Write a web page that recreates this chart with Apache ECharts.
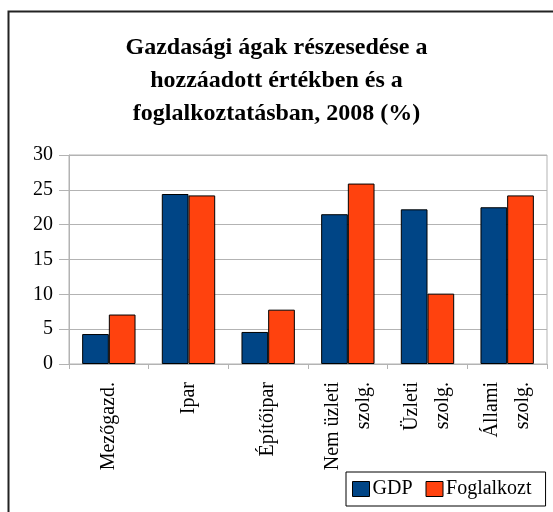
<!DOCTYPE html>
<html>
<head>
<meta charset="utf-8">
<script src="https://cdn.jsdelivr.net/npm/echarts@6/dist/echarts.min.js"></script>
<style>
  html, body { margin: 0; padding: 0; background: #fff; }
  #chart { width: 553px; height: 512px; }
</style>
</head>
<body>
<div id="chart"></div>
<script>
var categories = ["Mezőgazd.", "Ipar", "Építőipar", "Nem üzleti\nszolg.", "Üzleti\nszolg.", "Állami\nszolg."];
var gdpValues = [4.3, 24.4, 4.6, 21.5, 22.2, 22.5];
var foglalkoztValues = [7.1, 24.2, 7.8, 25.9, 10.1, 24.2];
var yTicks = { min: 0, max: 30, interval: 5 };

var serif = "'Liberation Serif', 'Times New Roman', serif";
var myChart = echarts.init(document.getElementById("chart"));

var option = {
  backgroundColor: "#fff",
  animation: false,
  title: {
    text: "Gazdasági ágak részesedése a\nhozzáadott értékben és a\nfoglalkoztatásban, 2008 (%)",
    left: "center",
    top: 26,
    textStyle: {
      fontFamily: serif,
      fontWeight: "bold",
      fontSize: 24,
      lineHeight: 33,
      color: "#000"
    }
  },
  graphic: [
    {
      type: "rect",
      shape: { x: 8.5, y: 11.5, width: 600, height: 600 },
      style: { fill: "none", stroke: "#222", lineWidth: 2 },
      silent: true
    }
  ],
  legend: {
    left: 346,
    top: 472,
    padding: [7, 14, 7, 6],
    itemGap: 13,
    itemWidth: 17,
    itemHeight: 15,
    backgroundColor: "#fff",
    borderColor: "#000",
    borderWidth: 1,
    icon: "rect",
    itemStyle: { borderColor: "#000", borderWidth: 1 },
    textStyle: { fontFamily: serif, fontSize: 20, color: "#000", padding: [0, 0, 0, -2] },
    data: ["GDP", "Foglalkozt"]
  },
  grid: {
    left: 69,
    right: 6,
    top: 155,
    bottom: 148,
    show: true,
    borderColor: "#b3b3b3",
    borderWidth: 1
  },
  xAxis: {
    type: "category",
    data: categories,
    axisLine: { lineStyle: { color: "#b3b3b3" } },
    axisTick: { show: true, length: 5, lineStyle: { color: "#b3b3b3" } },
    axisLabel: {
      rotate: 90,
      interval: 0,
      margin: 18,
      fontFamily: serif,
      fontSize: 20,
      lineHeight: 31,
      color: "#000"
    }
  },
  yAxis: {
    type: "value",
    min: yTicks.min,
    max: yTicks.max,
    interval: yTicks.interval,
    axisLine: { show: true, lineStyle: { color: "#b3b3b3" } },
    axisTick: { show: true, length: 10, lineStyle: { color: "#b3b3b3" } },
    splitLine: { lineStyle: { color: "#b3b3b3" } },
    axisLabel: {
      margin: 16,
      fontFamily: serif,
      fontSize: 20,
      color: "#000"
    }
  },
  series: [
    {
      name: "GDP",
      type: "bar",
      data: gdpValues,
      barGap: 0,
      barCategoryGap: "33%",
      itemStyle: { color: "#004586", borderColor: "#000", borderWidth: 1 }
    },
    {
      name: "Foglalkozt",
      type: "bar",
      data: foglalkoztValues,
      barGap: 0,
      barCategoryGap: "33%",
      itemStyle: { color: "#ff420e", borderColor: "#000", borderWidth: 1 }
    }
  ]
};

myChart.setOption(option);
</script>
</body>
</html>
